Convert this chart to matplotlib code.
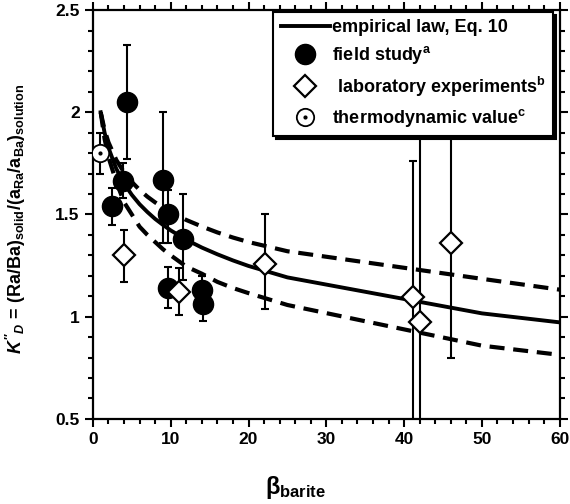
import matplotlib
matplotlib.use('Agg')
import matplotlib.pyplot as plt
from matplotlib.ticker import MultipleLocator

plt.rcParams['font.family'] = ['Liberation Sans', 'DejaVu Sans']
plt.rcParams['font.weight'] = 'bold'
plt.rcParams['mathtext.fontset'] = 'custom'
plt.rcParams['mathtext.rm'] = 'Liberation Sans:bold'
plt.rcParams['mathtext.it'] = 'Liberation Sans:italic:bold'
plt.rcParams['mathtext.bf'] = 'Liberation Sans:bold'

# empirical law and its uncertainty band
law_x = [1, 1.5, 2, 3, 4, 5, 6, 7, 8, 9, 10, 12, 14, 16, 18, 20, 25, 50, 60]
law_y = [2.0, 1.90, 1.826, 1.724, 1.652, 1.596, 1.550, 1.512, 1.478, 1.449,
         1.422, 1.376, 1.338, 1.305, 1.275, 1.248, 1.192, 1.016, 0.972]
upper_y = [2.0, 1.914, 1.853, 1.767, 1.706, 1.659, 1.620, 1.587, 1.559, 1.534,
           1.512, 1.473, 1.441, 1.412, 1.387, 1.365, 1.320, 1.185, 1.132]
lower_y = [2.0, 1.87, 1.78, 1.66, 1.56, 1.50, 1.44, 1.40, 1.365, 1.33,
           1.30, 1.245, 1.21, 1.17, 1.14, 1.115, 1.057, 0.858, 0.813]

# field study
field_x = [2.4, 3.9, 4.35, 9.0, 9.7, 11.6, 9.7, 14.0, 14.1]
field_y = [1.54, 1.665, 2.05, 1.67, 1.50, 1.38, 1.14, 1.13, 1.06]
field_lo = [1.45, 1.58, 1.77, 1.36, 1.36, 1.18, 1.04, 1.06, 0.98]
field_hi = [1.63, 1.75, 2.33, 2.00, 1.62, 1.60, 1.245, 1.20, 1.13]

# laboratory experiments
lab_x = [4.0, 11.1, 22.1, 41.1, 42.0, 46.0]
lab_y = [1.30, 1.12, 1.26, 1.095, 0.975, 1.36]
lab_lo = [1.17, 1.01, 1.035, 0.0, 0.0, 0.80]
lab_hi = [1.425, 1.237, 1.50, 1.76, 3.0, 3.0]

# thermodynamic value
thermo_x = [0.9]
thermo_y = [1.80]
thermo_lo = [1.70]
thermo_hi = [1.90]

fig = plt.figure(figsize=(5.7, 5.04), dpi=100)
ax = fig.add_axes([0.163, 0.169, 0.819, 0.811])

dash = (0, (3.6, 2.1))
ax.plot(law_x, upper_y, color='black', lw=3, linestyle=dash, zorder=2)
ax.plot(law_x, lower_y, color='black', lw=3, linestyle=dash, zorder=2)
law_line, = ax.plot(law_x, law_y, color='black', lw=2.8, zorder=2)

def yerr(y, lo, hi):
    return [[v - l for v, l in zip(y, lo)], [h - v for v, h in zip(y, hi)]]

eb = dict(ecolor='black', elinewidth=1.5, capsize=2.6, capthick=1.5, linestyle='none')
ax.errorbar(field_x, field_y, yerr=yerr(field_y, field_lo, field_hi), fmt='none', zorder=3, **eb)
ax.errorbar(lab_x, lab_y, yerr=yerr(lab_y, lab_lo, lab_hi), fmt='none', zorder=3, **eb)
ax.errorbar(thermo_x, thermo_y, yerr=yerr(thermo_y, thermo_lo, thermo_hi), fmt='none', zorder=3, **eb)

field_pts, = ax.plot(field_x, field_y, 'o', ms=14.5, mfc='black', mec='black', ls='none', zorder=4)
lab_pts, = ax.plot(lab_x, lab_y, 'D', ms=11, mfc='white', mec='black', mew=1.6, ls='none', zorder=4)
thermo_pts, = ax.plot(thermo_x, thermo_y, 'o', ms=12.5, mfc='white', mec='black', mew=1.3, ls='none', zorder=4)
thermo_dot, = ax.plot(thermo_x, thermo_y, 'o', ms=2, mfc='black', mec='black', ls='none', zorder=5)

ax.set_xlim(0, 60)
ax.set_ylim(0.5, 2.5)
ax.xaxis.set_major_locator(MultipleLocator(10))
ax.xaxis.set_minor_locator(MultipleLocator(2))
ax.yaxis.set_minor_locator(MultipleLocator(0.1))
ax.set_yticks([0.5, 1, 1.5, 2, 2.5])
ax.set_yticklabels(['0.5', '1', '1.5', '2', '2.5'])

for s in ax.spines.values():
    s.set_linewidth(1.6)
ax.tick_params(which='both', direction='out', top=True, right=True, width=1.5, labelsize=12.5)
ax.tick_params(which='major', length=6)
ax.tick_params(which='minor', length=3.5)
for lab in ax.get_xticklabels() + ax.get_yticklabels():
    lab.set_fontweight('bold')

ax.set_xlabel(r'β$_{\mathrm{barite}}$', fontsize=17, fontweight='bold')
ax.xaxis.set_label_coords(0.435, -0.135)
ax.set_ylabel(r"$K''_{D}$ = (Ra/Ba)$_{\mathrm{solid}}$/(a$_{\mathrm{Ra}}$/a$_{\mathrm{Ba}}$)$_{\mathrm{solution}}$",
              fontsize=13.0, fontweight='bold')
ax.yaxis.set_label_coords(-0.14, 0.49)

leg_labels = ['empirical law, Eq. 10', r'field study$^{\mathrm{a}}$',
              r' laboratory experiments$^{\mathrm{b}}$', r'thermodynamic value$^{\mathrm{c}}$']
leg = ax.legend([law_line, field_pts, lab_pts, (thermo_pts, thermo_dot)], leg_labels,
                loc='upper right', bbox_to_anchor=(0.985, 0.995),
                handlelength=2.75, handletextpad=0.1, labelspacing=0.45, borderpad=0.4,
                borderaxespad=0, fancybox=False, framealpha=1, edgecolor='black',
                shadow={'color': 'black', 'alpha': 1}, prop={'weight': 'bold', 'size': 13})
leg.get_frame().set_linewidth(1.5)
leg.set_zorder(10)

fig.savefig('out.png', dpi=100)
